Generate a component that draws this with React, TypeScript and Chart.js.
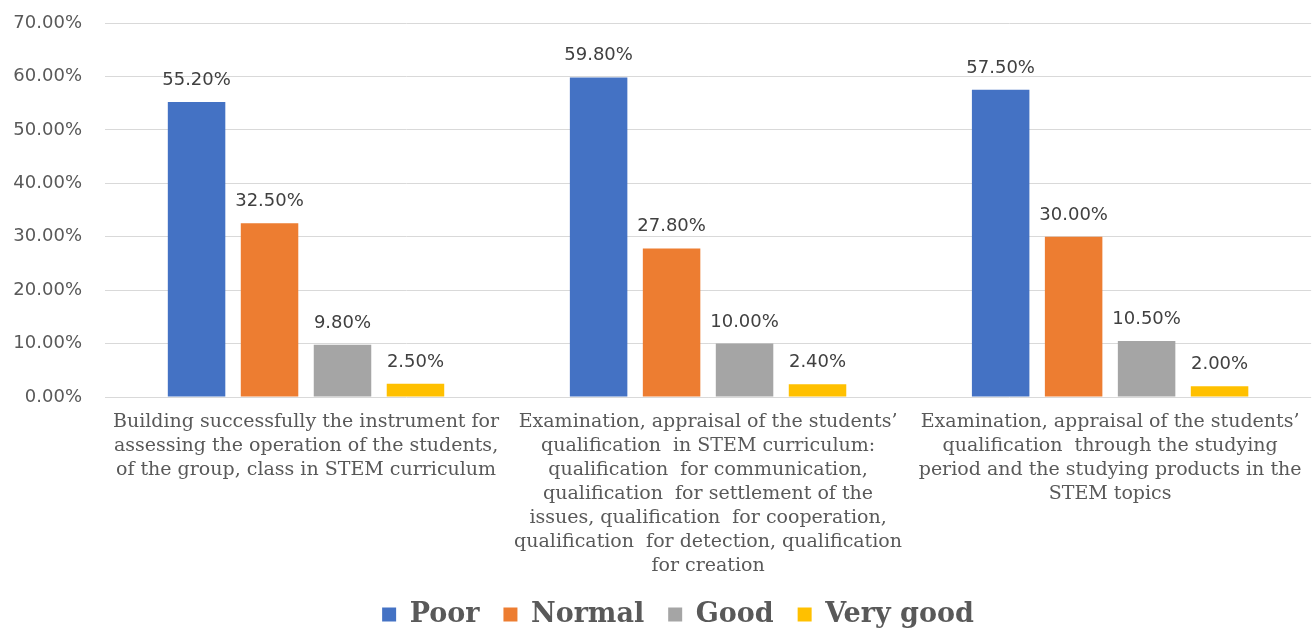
import React, { useEffect, useRef } from "react";
import { Chart, registerables } from "chart.js";

Chart.register(...registerables);

const categories: string[][] = [
  [
    "Building successfully the instrument for",
    "assessing the operation of the students,",
    "of the group, class in STEM curriculum",
  ],
  [
    "Examination, appraisal of the students’",
    "qualification  in STEM curriculum:",
    "qualification  for communication,",
    "qualification  for settlement of the",
    "issues, qualification  for cooperation,",
    "qualification  for detection, qualification",
    "for creation",
  ],
  [
    "Examination, appraisal of the students’",
    "qualification  through the studying",
    "period and the studying products in the",
    "STEM topics",
  ],
];

const seriesNames = ["Poor", "Normal", "Good", "Very good"];
const poor = [0.552, 0.598, 0.575];
const normal = [0.325, 0.278, 0.3];
const good = [0.098, 0.1, 0.105];
const veryGood = [0.025, 0.024, 0.02];
const seriesColors = ["#4472C4", "#ED7D31", "#A5A5A5", "#FFC000"];

const yMin = 0;
const yMax = 0.7;
const yStep = 0.1;

const fmtPct = (v: number) => (v * 100).toFixed(2) + "%";

const valueLabels = {
  id: "valueLabels",
  afterDatasetsDraw(chart: any) {
    const ctx = chart.ctx;
    ctx.save();
    ctx.font = '18px "DejaVu Sans"';
    ctx.fillStyle = "#404040";
    ctx.textAlign = "center";
    ctx.textBaseline = "alphabetic";
    chart.data.datasets.forEach((ds: any, i: number) => {
      const meta = chart.getDatasetMeta(i);
      meta.data.forEach((bar: any, j: number) => {
        ctx.fillText(fmtPct(ds.data[j]), bar.x, bar.y - 17);
      });
    });
    ctx.restore();
  },
};

const legendShift = {
  id: "legendShift",
  afterLayout(chart: any) {
    if (chart.legend) {
      chart.legend.left += 22;
      chart.legend.right += 22;
    }
  },
};

export default function App() {
  const ref = useRef<HTMLCanvasElement>(null);

  useEffect(() => {
    document.body.style.margin = "0";
    if (!ref.current) return;
    const seriesData = [poor, normal, good, veryGood];
    const chart = new Chart(ref.current, {
      type: "bar",
      data: {
        labels: categories,
        datasets: seriesNames.map((name, i) => ({
          label: name,
          data: seriesData[i],
          backgroundColor: seriesColors[i],
          borderWidth: 0,
          categoryPercentage: 0.726,
          barPercentage: 0.788,
        })),
      },
      options: {
        animation: false,
        responsive: false,
        layout: { padding: { left: 0, right: 3, top: 23, bottom: -9 } },
        plugins: {
          legend: {
            position: "bottom",
            labels: {
              boxWidth: 14,
              boxHeight: 14,
              padding: 24,
              color: "#595959",
              font: { family: '"DejaVu Serif"', size: 27, weight: "bold" },
            },
          },
          tooltip: { enabled: false },
        },
        scales: {
          x: {
            grid: { display: false, drawTicks: false },
            border: { display: false },
            ticks: {
              autoSkip: false,
              maxRotation: 0,
              minRotation: 0,
              padding: 13,
              color: "#595959",
              font: { family: '"DejaVu Serif"', size: 19, lineHeight: "24px" },
            },
            afterFit: (scale: any) => {
              scale.height = 180;
            },
          },
          y: {
            min: yMin,
            max: yMax,
            grid: {
              color: "#D9D9D9",
              lineWidth: 1,
              drawTicks: true,
              tickLength: 23,
              tickColor: "rgba(0,0,0,0)",
            },
            border: { display: false },
            ticks: {
              stepSize: yStep,
              padding: 0,
              color: "#595959",
              font: { family: '"DejaVu Sans"', size: 18 },
              callback: (v: any) => fmtPct(Number(v)),
            },
            afterFit: (scale: any) => {
              scale.width = 105;
            },
          },
        },
      },
      plugins: [valueLabels, legendShift],
    });
    return () => chart.destroy();
  }, []);

  return (
    <div style={{ width: "1315px", height: "629px" }}>
      <canvas ref={ref} width={1315} height={629} style={{ display: "block" }} />
    </div>
  );
}
